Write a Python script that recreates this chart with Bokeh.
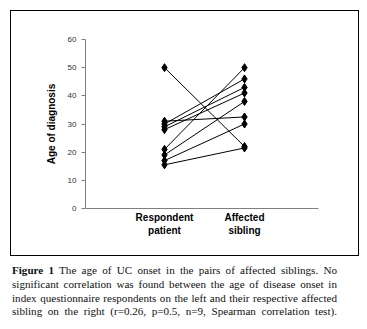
from bokeh.plotting import figure
from bokeh.models import ColumnDataSource, Range1d, FixedTicker, Div
from bokeh.layouts import column
from bokeh.embed import file_html
from bokeh.resources import INLINE

# ---- data ----
categories = ["Respondent\npatient", "Affected\nsibling"]
respondent_age = [50, 31, 30, 29, 28, 21, 19, 17, 15.5]
sibling_age = [22, 32.5, 46, 43, 41, 50, 38, 30, 21.5]
y_ticks = [0, 10, 20, 30, 40, 50, 60]
caption_lines = [
    "<b>Figure 1</b> The age of UC onset in the pairs of affected siblings. No",
    "significant correlation was found between the age of disease onset in",
    "index questionnaire respondents on the left and their respective affected",
    "sibling on the right (r=0.26, p=0.5, n=9, Spearman correlation test).",
]

n = len(respondent_age)
seg_src = ColumnDataSource(dict(
    x0=[1] * n, y0=respondent_age, x1=[2] * n, y1=sibling_age))
pt_src = ColumnDataSource(dict(
    x=[1] * n + [2] * n, y=respondent_age + sibling_age))

p = figure(width=347, height=244, output_backend="svg", toolbar_location=None,
           x_range=Range1d(0.0125, 2.925), y_range=Range1d(0, 60),
           min_border_left=74, min_border_right=40, min_border_top=28,
           min_border_bottom=47, margin=0)
p.outline_line_color = None
p.xgrid.visible = False
p.ygrid.visible = False
p.background_fill_color = "white"
p.border_fill_color = "white"

p.segment("x0", "y0", "x1", "y1", source=seg_src, line_color="black", line_width=1)
p.scatter("x", "y", source=pt_src, marker="diamond", size=8,
          fill_color="black", line_color="black")

# y axis
ya = p.yaxis[0]
ya.ticker = FixedTicker(ticks=y_ticks)
ya.axis_line_color = "#808080"
ya.major_tick_line_color = "#808080"
ya.major_tick_out = 4
ya.major_tick_in = 0
ya.minor_tick_line_color = None
ya.major_label_text_font = "Liberation Sans"
ya.major_label_text_font_size = "8px"
ya.major_label_text_color = "#333333"
ya.major_label_standoff = 5
ya.axis_label = "Age of diagnosis"
ya.axis_label_text_font = "Liberation Sans"
ya.axis_label_text_font_style = "bold"
ya.axis_label_text_font_size = "10px"
ya.axis_label_text_color = "black"
ya.axis_label_standoff = 8

# x axis
xa = p.xaxis[0]
xa.ticker = FixedTicker(ticks=[1, 2])
xa.major_label_overrides = {1: categories[0], 2: categories[1]}
xa.axis_line_color = "#808080"
xa.major_tick_out = 0
xa.major_tick_in = 0
xa.minor_tick_line_color = None
xa.major_label_text_font = "Liberation Sans"
xa.major_label_text_font_style = "bold"
xa.major_label_text_font_size = "10px"
xa.major_label_text_color = "black"
xa.major_label_standoff = 3

framed = column(p, spacing=0, margin=(10, 0, 0, 10),
                styles={"border": "1.5px solid #000000"})

line_divs = "".join(
    '<div style="text-align:justify;text-align-last:justify;">%s</div>' % t
    for t in caption_lines)
html = ('<div style="font-family:\'Liberation Serif\';font-size:11.1px;'
        'line-height:13.8px;color:#111;padding:8px 9px 0 12px;width:346px;">'
        + line_divs + '</div>')
cap = Div(text=html, width=367, height=70, margin=0)

layout = column(framed, cap, spacing=0)
open("out.html", "w").write(file_html(layout, INLINE))
